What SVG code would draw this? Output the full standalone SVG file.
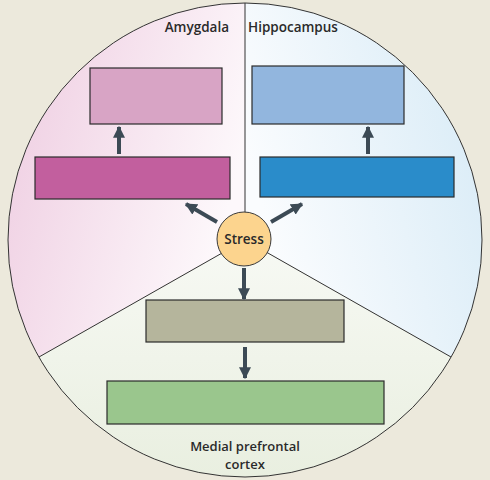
<svg xmlns="http://www.w3.org/2000/svg" width="490" height="480" viewBox="0 0 490 480">
<defs>
<linearGradient id="gPink" x1="0" y1="0" x2="1" y2="0.4">
<stop offset="0" stop-color="#eecbe0"/>
<stop offset="1" stop-color="#fdf8fb"/>
</linearGradient>
<linearGradient id="gBlue" x1="1" y1="0" x2="0" y2="0.4">
<stop offset="0" stop-color="#d6eaf6"/>
<stop offset="1" stop-color="#fafcfe"/>
</linearGradient>
<linearGradient id="gGreen" x1="0" y1="0" x2="0" y2="1">
<stop offset="0" stop-color="#f7f9f4"/>
<stop offset="1" stop-color="#e9efe0"/>
</linearGradient>
<marker id="ah" viewBox="0 0 10 10" refX="9" refY="5" markerWidth="3" markerHeight="3" orient="auto" markerUnits="strokeWidth">
<path d="M0,0 L10,5 L0,10 Z" fill="#3c4a55"/>
</marker>
<style>
.sec{stroke:none}
.div{stroke:#333;stroke-width:1;fill:none}
.box{stroke:#2b2b2b;stroke-width:1.2}
.arr{stroke:#3c4a55;stroke-width:4;fill:none;marker-end:url(#ah)}
.lbl{font-family:"Open Sans","Liberation Sans",sans-serif;font-weight:600;font-size:13.5px;fill:#2a2a2a}
.lbl2{font-family:"Open Sans","Liberation Sans",sans-serif;font-weight:600;font-size:13px;fill:#2a2a2a}
</style>
</defs>
<rect width="490" height="480" fill="#ece9dc"/>
<g id="sectors">
<path class="sec" d="M245,240 L245,3 A237,237 0 0 0 39,357 Z" fill="url(#gPink)"/>
<path class="sec" d="M245,240 L245,3 A237,237 0 0 1 451,357 Z" fill="url(#gBlue)"/>
<path class="sec" d="M245,240 L39,357 A237,237 0 0 0 451,357 Z" fill="url(#gGreen)"/>
<circle cx="245" cy="240" r="237" class="div"/>
<path class="div" d="M245,3 L245,240 M245,240 L39,357 M245,240 L451,357"/>
</g>
<g id="amygdala-top"><rect class="box" x="90" y="68" width="132" height="56" fill="#d8a4c5"/></g>
<g id="amygdala-bottom"><rect class="box" x="35" y="157" width="195" height="42" fill="#c25f9e"/></g>
<g id="hippocampus-top"><rect class="box" x="252" y="66" width="152" height="58" fill="#92b6de"/></g>
<g id="hippocampus-bottom"><rect class="box" x="260" y="157" width="194" height="40" fill="#2a8cca"/></g>
<g id="mpfc-top"><rect class="box" x="146" y="300" width="198" height="42" fill="#b5b59c"/></g>
<g id="mpfc-bottom"><rect class="box" x="107" y="381" width="277" height="43" fill="#9ac68d"/></g>
<g id="connectors">
<line class="arr" x1="119" y1="154" x2="119" y2="127"/>
<line class="arr" x1="368" y1="154" x2="368" y2="127"/>
<line class="arr" x1="217" y1="222" x2="186" y2="204"/>
<line class="arr" x1="271" y1="222" x2="302" y2="204"/>
<line class="arr" x1="244" y1="268" x2="244" y2="299"/>
<line class="arr" x1="245" y1="347" x2="245" y2="378"/>
</g>
<g id="stress">
<circle cx="244" cy="239" r="27" fill="#fcd48e" stroke="#3a3a3a" stroke-width="1"/>
<text class="lbl" x="244" y="244" text-anchor="middle" font-weight="700">Stress</text>
</g>
<g id="labels">
<text class="lbl" x="229" y="32" text-anchor="end">Amygdala</text>
<text class="lbl" x="248" y="32">Hippocampus</text>
<text class="lbl2" x="245" y="451" text-anchor="middle">Medial prefrontal</text>
<text class="lbl2" x="245" y="469" text-anchor="middle">cortex</text>
</g>
</svg>
